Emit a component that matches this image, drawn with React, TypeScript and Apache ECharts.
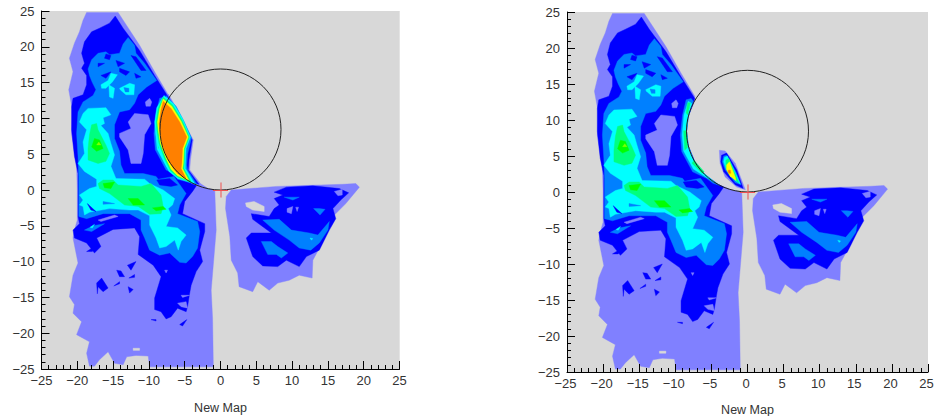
import React, { useEffect, useRef } from "react";
import * as echarts from "echarts";

type P = number[][];
const tickLabels = [-25, -20, -15, -10, -5, 0, 5, 10, 15, 20, 25];
const axisTitle = "New Map";
const circleCentre = [0, 8.45];
const circleRadius = 8.45;
const crossArm = 1.05;

const plotArea: P = [[-25,-25],[25,-25],[25,25],[-25,25]];
const wingLeft1: P = [[-18.7,24.8],[-14.3,24.8],[-11.3,20.2],[-9.2,16.5],[-7.3,13.3],[-7.3,12.7],[-8.2,10.5],[-8.45,8.45],[-8.2,6.4],[-7.3,4.2],[-6,2.5],[-4.2,1.1],[-2.2,0.3],[-0.8,0],[-0.6,-5.6],[-1.3,-14],[-1.1,-18],[-1,-24.7],[-9.9,-24.7],[-10.1,-23.2],[-11.8,-23.1],[-13.1,-23.3],[-13.6,-24.4],[-14.8,-24.2],[-15.7,-22.6],[-16.9,-23.7],[-17.6,-24.6],[-18.3,-24.6],[-18.7,-22.8],[-18.3,-21.2],[-20.1,-20.2],[-19.4,-18.4],[-20.6,-17.2],[-20.4,-16],[-21.1,-14.9],[-20.6,-11.9],[-19.9,-10.2],[-20.6,-6.7],[-20.4,-5.6],[-20,-4.2],[-20,0],[-20.1,3.3],[-20.8,7.9],[-20.6,10.7],[-21.2,14],[-20.6,16.5],[-21.1,18.4],[-20.4,20.5],[-19.7,22.1],[-19.2,23.7]];
const wingLeft2: P = [[-14.7,24.3],[-13.6,22.6],[-11.3,19.5],[-9.2,16],[-7.3,13],[-7.6,12.1],[-8.2,10.5],[-8.45,8.45],[-8.2,6.4],[-7.3,4.2],[-6,2.5],[-4.2,1.1],[-3.3,0.7],[-3.9,-0.2],[-5,-1.6],[-5.3,-3.3],[-2.2,-4.7],[-2.2,-5.8],[-2.9,-8.4],[-2.5,-10],[-3.4,-11.4],[-4.1,-13.3],[-4.3,-14.4],[-4.6,-16.3],[-4.8,-17],[-6,-16.5],[-6.9,-17.7],[-7.6,-18],[-8.3,-17],[-9.2,-16.7],[-9.2,-15.1],[-8.3,-12.1],[-9.4,-10.5],[-11.5,-9],[-11.3,-6.5],[-12,-5.3],[-15,-5.5],[-17.3,-6.7],[-16.7,-7.9],[-17.6,-8.8],[-18.7,-7.4],[-20.4,-6.7],[-20.6,-5.6],[-19.7,-4.7],[-19.9,-3.7],[-19.9,0],[-19.9,2.3],[-20.4,4.7],[-20.8,8.4],[-20.8,11.6],[-20.6,12.8],[-19.2,13.3],[-18.7,14.7],[-18.7,16],[-19.4,17],[-19,17.7],[-19.4,19.1],[-19,20.7],[-18,22.1],[-16.9,22.6],[-15.5,23.3]];
const specks2: P[] = [
  [[-17.3,-13],[-16.6,-12.3],[-15.7,-13.7],[-16.4,-14.2],[-17.1,-13.5],[-17.2,-14.5]],
  [[-14.5,-11.2],[-13.9,-11.3],[-13.4,-12.1],[-14.1,-12.1]],
  [[-14.9,-13.4],[-14.1,-12.8],[-14.1,-13.1]],
  [[-12.9,-13.5],[-12.2,-13.9],[-12.7,-14.4]],
  [[-13,-10.5],[-11.8,-10],[-12.5,-11.2]],
  [[-5.7,-18.8],[-4.7,-18.1],[-5.3,-19]],
  [[-9.7,-18.1],[-9,-18.1],[-9,-18.3]],
  [[-12.8,-12.3],[-12,-11.8],[-12,-12.2]],
  [[-18.7,-8.6],[-17.6,-7.9],[-17.9,-8.6]],
];
const holesLeft1: P[] = [
  [[-12.9,9.5],[-12,10.7],[-10.1,10.5],[-9.7,9.3],[-10.6,7.7],[-10.8,5.1],[-11.1,3.7],[-12.5,3.7],[-12.9,5.6],[-14.1,7.4],[-14.1,7.9],[-12.5,8.6]],
  [[-10.5,12.3],[-9.9,12.8],[-9.6,12.3],[-9.8,11.7],[-10.4,11.7]],
  [[-17.1,-4.2],[-14.8,-3.5],[-14.3,-3.7],[-16.7,-4.4]],
  [[-5.5,-14.7],[-4.3,-14.7],[-5.3,-15]],
  [[-6,-15.8],[-4.8,-15.6],[-4.6,-16.5],[-5.5,-16.3]],
  [[-7.8,-11.2],[-7.4,-11.2],[-7.6,-11.6]],
];
const wingLeft3: P = [[-12.9,21.3],[-12,20.2],[-11.8,19.1],[-10.6,17.7],[-8.9,15.3],[-10.3,14.4],[-11.5,13.3],[-12,12.1],[-12.7,11.2],[-14.1,10.9],[-14.8,9.1],[-14.8,7.2],[-14.1,5.4],[-13.9,3.5],[-13.4,2.3],[-10.8,2.3],[-9,1.9],[-8.7,1.5],[-6.5,1.9],[-4.8,-0.5],[-5.7,-2.1],[-6,-3.3],[-3.2,-4.4],[-2.9,-5.8],[-3.2,-8.1],[-3.9,-9.3],[-4.8,-10.2],[-5.7,-10.1],[-7.1,-8.8],[-8.5,-9.1],[-9.9,-8.4],[-10.6,-6.7],[-11.1,-5.6],[-11.1,-4.2],[-12.7,-3.3],[-16.4,-3.3],[-18.7,-4],[-19.8,-3.7],[-19.8,0],[-19.8,1.9],[-19.9,4.7],[-20.1,7.9],[-19.9,10.9],[-19.2,12.3],[-17.8,13.2],[-17.4,14],[-17.9,15],[-18.3,16],[-18.5,16.9],[-18,18.2],[-17.1,19.1],[-16,19.3],[-15.5,18.9],[-14.1,19.1],[-13.6,20.4]];
const strip3: P = [[-19,-5.6],[-17.8,-5],[-16.2,-4.7],[-18,-5.8]];
const wingLeft4: P = [[-18.5,11.4],[-16,11.5],[-15.3,10.5],[-16.4,10.1],[-16.2,9.3],[-16.7,9],[-15.7,7.9],[-15.3,6.5],[-14.8,4.9],[-15.3,3.3],[-14.6,1.6],[-10.6,1.5],[-9.9,0.9],[-8,0],[-6.4,-1.2],[-6.7,-2.1],[-7.3,-2.6],[-6.9,-3.5],[-7.6,-5.1],[-6,-5.3],[-4.8,-6.3],[-5.5,-7.2],[-5.9,-8.4],[-6.4,-7],[-7.6,-7.9],[-8.5,-8.1],[-9,-6.7],[-9.9,-4.9],[-9.9,-3.6],[-11.5,-2.8],[-12.7,-2.8],[-15.5,-2.6],[-18.3,-3.1],[-19,-3.5],[-19.2,-2.3],[-19.7,-2.1],[-19.2,-1.4],[-19.7,-0.7],[-18.3,0.2],[-17.3,0.5],[-17.3,1.5],[-19,2.6],[-19.9,3.7],[-19,5.1],[-19.2,6.7],[-18.7,8.4],[-19.7,9.5],[-19.2,10.7]];
const patches4: P[] = [
  [[-16.7,14.7],[-15.7,15.3],[-15.3,16.3],[-14.4,16.1],[-15.1,15.1],[-16,14.2],[-16.6,14.2]],
  [[-15.6,14.7],[-14.8,14.2],[-15,12.8],[-15.5,13]],
  [[-14.1,14.2],[-12.7,14.9],[-12,14.7],[-12.1,13.3],[-13.2,13.3],[-14,14]],
  [[-18.2,-5.2],[-17.6,-4.8],[-17.9,-5.3]],
];
const patches2: P[] = [
  [[-8.9,1.4],[-7.1,1.6],[-6,0.7],[-6.9,0.5],[-8.5,0.7]],
  [[-16,19],[-15.3,18.8],[-15.5,18.2],[-16.2,18.4]],
  [[-17.1,17.7],[-16.2,17.7],[-17.1,17.2]],
  [[-14.6,18.1],[-13.4,17.7],[-14.3,17.2]],
  [[-12.5,18.8],[-11.8,18.6],[-10.4,16.7],[-11.1,16.7]],
  [[-16.7,16],[-15.3,16.5],[-16,15.6]],
  [[-14.1,17],[-12.7,16.5],[-13.2,16],[-14.1,16.5]],
  [[-12,16.3],[-11.1,15.8],[-11.8,15.6]],
  [[-18.6,-1.9],[-18.1,-2.8],[-17.4,-3]],
];
const slits3: P[] = [
  [[-13.5,14.3],[-12.8,14.2],[-12.8,13.7],[-13.3,13.7]],
  [[-16.4,-1.6],[-14.8,-1.9],[-16.4,-2]],
];
const wingLeft5: P[] = [
  [[-18,9.1],[-17.3,9.3],[-17.1,8.4],[-16,6.3],[-15.5,5.1],[-16,4],[-17.1,3.7],[-18.5,4.2],[-18.5,5.8],[-18.3,7.7]],
  [[-17.1,0.9],[-16.4,1.4],[-15,1.4],[-14.3,0.7],[-11.1,0.5],[-9.7,0.9],[-8.3,-0.7],[-8,-2.3],[-8.3,-3.3],[-9.9,-3.4],[-11.5,-2.3],[-13.4,-2.1],[-15.5,-0.5],[-16.9,0.2]],
];
const wingLeft6: P[] = [
  [[-17.6,7.2],[-16.9,7],[-16.4,5.8],[-17.3,5.4],[-18,6]],
  [[-16.4,0.9],[-14.8,1.1],[-15.3,0.2],[-16.2,0.3]],
  [[-12.9,-1.2],[-11.5,-1.2],[-10.6,-2.1],[-12.2,-2.1]],
  [[-9.5,-2.5],[-8,-2.3],[-7.6,-2.7],[-9,-2.9]],
];
const peak7: P = [[-17.3,6.3],[-16.7,6.3],[-17,6.7]];
const ridgeAzure: P = [[-7.8,13],[-8.5,12.8],[-9,10.7],[-9.3,7.9],[-9.1,5.6],[-7.6,2.8],[-5.7,1.9],[-4.8,1.2],[-3.8,0.9],[-6,2.5],[-7.3,4.2],[-8.2,6.4],[-8.45,8.45],[-8.2,10.5],[-7.5,12.6]];
const ridgeCyan: P = [[-8.2,12.6],[-8.8,10.7],[-9.05,7.9],[-8.85,5.7],[-7.5,3.2],[-5.8,2.1],[-4.6,1.4],[-5.3,2],[-6.5,3],[-7.5,4.4],[-8.2,6.4],[-8.45,8.45],[-8.2,10.5],[-7.7,12.3]];
const ridgeGreen: P[] = [
  [[-8.3,12.4],[-8.5,11],[-8.3,10.7],[-7.9,12.4]],
  [[-8.85,8.5],[-8.7,5.8],[-8.3,6.2],[-8.45,8.5]],
  [[-7.7,4],[-6.3,2.6],[-6,2.8],[-7.4,4.4]],
];
const wingRight1: P = [[1.5,0],[7.8,0.5],[17.1,0.8],[18.9,0.9],[19.4,0.4],[17.5,-1.9],[15.9,-3.5],[14.3,-7.2],[12.9,-9.8],[12.8,-12.3],[11,-11.9],[9.6,-12.6],[8,-13],[6.8,-14],[5.2,-12.8],[4.5,-14.2],[2.6,-13.5],[2.4,-11.6],[1.5,-9.8],[1.3,-6.5],[0.7,-2.6],[0.8,-0.9]];
const gapRight: P = [[3.5,-1.8],[4.7,-1.6],[6.1,-2.3],[6.1,-3],[4.5,-2.8],[3.6,-2.3]];
const gapLeft: P = [[-12.2,-22.1],[-11.3,-22.1],[-11.3,-22.4],[-12.2,-22.4]];
const wingRight2: P = [[7.5,-0.3],[9.2,0.4],[12.9,0.6],[16.6,0.2],[17.9,-0.4],[16.8,-1.4],[15.7,-2.6],[16.1,-4],[15.2,-5.6],[13.8,-8.4],[12,-9.3],[11,-10.7],[9.2,-9.8],[8,-10.7],[5.9,-10.6],[4.5,-9.3],[3.6,-6.7],[4.3,-6],[6.6,-6],[7.1,-6],[4.5,-4.1],[4.3,-3.3],[6.8,-3.7],[7.5,-2.6],[8.2,-2.1],[7.5,-1.2],[8.7,-0.7]];
const holesRight1: P[] = [
  [[9.3,-2.6],[10.1,-2.3],[9.9,-3.3],[9.3,-3.1]],
  [[10.5,-2.4],[10.9,-2.4],[10.7,-3]],
  [[15.9,-0.2],[17,0.1],[17,-0.7],[16.4,-0.8]],
];
const wingRight3: P[] = [
  [[5.9,-4.2],[8.2,-4.1],[9.9,-5.6],[12.4,-6],[13.6,-6.3],[15.2,-4.4],[15,-5.6],[13.8,-7.4],[12.6,-8.4],[11,-8.1],[9.6,-7],[7.5,-5.6]],
  [[5.7,-7.2],[7.1,-7.2],[8,-7.9],[9.4,-8.8],[8.5,-9.5],[7.8,-9],[6.6,-9]],
  [[13.8,-2.6],[14.6,-2.7],[13.9,-3.5],[13,-2.6]],
  [[8.9,-1],[11,-1],[10.1,-1.4]],
];
const dotRight4: P = [[12.5,-6.7],[12.9,-6.8],[12.7,-7]];

const lensPeri: P = [[-7.3,13.4],[-5.9,11],[-4.7,8.6],[-3.8,7],[-4.2,4.2],[-4.3,2.8],[-2.8,0.9],[-1.5,0.05],[-4,0.9],[-6.6,3],[-8.45,8],[-7.8,12]];
const lensBlue: P = [[-7.4,13.2],[-6,10.8],[-4.85,8.6],[-3.95,7],[-4.4,4.2],[-4.5,2.8],[-3,0.8],[-6,1.5],[-8.45,8],[-8,11]];
const lensAzure: P = [[-7.6,13.2],[-6.2,11.7],[-5.1,9.6],[-4.05,7.3],[-4.6,5],[-4.7,3.5],[-4.6,2.8],[-3.3,0.8],[-6,1.5],[-8.45,8],[-8,11]];
const lensCyan: P = [[-7.9,13.2],[-6.5,12],[-5.3,10],[-4.2,7.4],[-4.8,5.8],[-4.9,3.7],[-4.9,3],[-3.6,0.9],[-6,1.6],[-7.2,2.6],[-8,4.2],[-8.8,6.5],[-9.1,8.4],[-9.2,9.5],[-8.9,11.5]];
const lensGreen: P = [[-8,13],[-6.7,11.9],[-5.4,9.8],[-4.35,7.4],[-4.95,5.8],[-5.05,3.7],[-5.1,3],[-4,1],[-6,1.8],[-7,2.7],[-7.8,4.3],[-8.6,6.5],[-8.9,8.4],[-9,9.5],[-8.7,11.4]];
const lensYellow: P = [[-8,12.7],[-6.8,11.7],[-5.5,9.6],[-4.5,7.4],[-5.1,5.8],[-5.2,3.7],[-5.3,3],[-4.4,1.3],[-6,2],[-6.9,2.9],[-7.6,4.4],[-8.4,6.5],[-8.7,8.4],[-8.8,9.5],[-8.5,11.3]];
const lensOrange: P = [[-8,12.4],[-6.9,11.4],[-5.7,9.5],[-4.7,7.4],[-5.3,5.8],[-5.4,3.7],[-5.5,3],[-4.8,1.6],[-6,2.3],[-6.6,3],[-7.4,4.4],[-8.2,6.5],[-8.5,8.4],[-8.6,9.3],[-8.3,11.2]];

const blobPeri: P = [[-3.9,5.8],[-3.1,5.7],[-1.7,4],[-0.3,0.3],[-1.5,0.7],[-3.1,2.1],[-3.8,4]];
const blobBlue: P = [[-3.6,5.1],[-2.9,5.4],[-1.5,3.1],[-0.6,0.5],[-1.7,1],[-3.3,2.8],[-3.7,4.2]];
const blobAzure: P = [[-3.3,5],[-2.9,5.1],[-1.6,2.8],[-0.9,1],[-1.7,1.3],[-3.1,3.1],[-3.5,4.2]];
const blobCyan: P = [[-3.2,4.8],[-2.8,5],[-1.7,2.7],[-1,1.1],[-1.7,1.6],[-3,3.3],[-3.3,4.2]];
const blobGreen: P = [[-3,4.4],[-2.6,4.7],[-1.7,2.5],[-1.2,1.3],[-1.9,1.8],[-3,3.4]];
const blobYellow: P = [[-2.9,3.75],[-2.5,4.2],[-1.7,2.1],[-1.6,1.6],[-2.4,2.2],[-2.9,3.1]];
const blobOrange: P = [[-2.7,3],[-2.4,3.05],[-2.3,2.6],[-2.6,2.6]];

const palette: Record<string, string> = {
  peri: "#8080ff", blue: "#0000ff", azure: "#0080ff", cyan: "#00ffff",
  spring: "#00ff80", green: "#00ff00", lime: "#80ff00", yellow: "#ffff00", orange: "#ff8000", bg: "#d8d8d8",
};
type Layer = [string, P];
const many = (c: string, list: P[]): Layer[] => list.map((p) => [c, p] as Layer);
const sharedLayers: Layer[] = [
  ["bg", plotArea],
  ["peri", wingLeft1], ["peri", wingRight1], ["bg", gapRight], ["bg", gapLeft],
  ["blue", wingLeft2], ...many("blue", specks2),
  ["blue", wingRight2], ...many("peri", holesRight1),
  ...many("peri", holesLeft1),
  ["azure", wingLeft3], ["azure", strip3], ...many("azure", wingRight3),
  ["cyan", dotRight4],
  ["azure", ridgeAzure],
  ...many("blue", patches2),
  ["cyan", wingLeft4], ...many("cyan", patches4), ...many("azure", slits3), ["blue", patches2[8]],
  ["cyan", ridgeCyan],
  ...many("spring", wingLeft5), ...many("green", wingLeft6), ["lime", peak7],
  ...many("spring", ridgeGreen),
];
const leftLayers: Layer[] = [...sharedLayers,
  ["peri", lensPeri], ["blue", lensBlue], ["azure", lensAzure], ["cyan", lensCyan],
  ["spring", lensGreen], ["yellow", lensYellow], ["orange", lensOrange],
];
const rightLayers: Layer[] = [...sharedLayers,
  ["peri", blobPeri], ["blue", blobBlue], ["azure", blobAzure], ["cyan", blobCyan],
  ["spring", blobGreen], ["yellow", blobYellow], ["orange", blobOrange],
];

const contourSeries = (i: number, layers: Layer[]) => ({
  type: "custom", xAxisIndex: i, yAxisIndex: i, silent: true, clip: true, z: 1,
  data: layers.map((_, k) => [k, 0]),
  renderItem: (params: any, api: any) => {
    const [c, pts] = layers[params.dataIndex];
    return { type: "polygon", shape: { points: pts.map((p) => api.coord(p)) }, style: { fill: palette[c], stroke: palette[c], lineWidth: 0.4 } };
  },
});
const overlaySeries = (i: number) => ({
  type: "custom", xAxisIndex: i, yAxisIndex: i, silent: true, clip: true, z: 2,
  data: [[0, 0]],
  renderItem: (_: any, api: any) => {
    const c = api.coord(circleCentre);
    const s = api.size([circleRadius, circleRadius]);
    const a = api.coord([-crossArm, 0]), b = api.coord([crossArm, 0]);
    const u = api.coord([0, crossArm]), d = api.coord([0, -crossArm]);
    return { type: "group", children: [
      { type: "ellipse", shape: { cx: c[0], cy: c[1], rx: s[0], ry: s[1] }, style: { fill: "none", stroke: "#222", lineWidth: 1 } },
      { type: "line", shape: { x1: a[0], y1: a[1] + 0.5, x2: b[0], y2: b[1] + 0.5 }, style: { stroke: "#f05050", lineWidth: 1 } },
      { type: "line", shape: { x1: u[0] + 0.5, y1: u[1], x2: d[0] + 0.5, y2: d[1] }, style: { stroke: "#f05050", lineWidth: 1 } },
    ] };
  },
});
const axisBase = {
  z: 10,
  min: tickLabels[0], max: tickLabels[tickLabels.length - 1], interval: 5,
  splitLine: { show: false }, minorSplitLine: { show: false },
  axisLine: { show: true, onZero: false, lineStyle: { color: "#000", width: 1 } },
  axisTick: { show: true, inside: true, length: 8, lineStyle: { color: "#000", width: 1 } },
  minorTick: { show: true, splitNumber: 5, length: 4, lineStyle: { color: "#000", width: 1 } },
};
const lab = { fontFamily: "Liberation Sans", fontSize: 13, color: "#333", formatter: (v: number) => String(v).replace("-", "\u2212") };

export default function App() {
  const ref = useRef<HTMLDivElement>(null);
  useEffect(() => {
    const chart = echarts.init(ref.current!, null, { renderer: "svg" });
    chart.setOption({
      animation: false,
      backgroundColor: "#ffffff",
      grid: [
        { left: 41.5, top: 11, width: 358, height: 358, show: false, outerBoundsMode: "none" },
        { left: 567, top: 12, width: 361, height: 360, show: false, outerBoundsMode: "none" },
      ],
      xAxis: [0, 1].map((i) => ({ ...axisBase, type: "value", gridIndex: i, position: "bottom", name: axisTitle, nameLocation: "middle", nameGap: i ? 31 : 32, nameTextStyle: { fontFamily: "Liberation Sans", fontSize: 12.5, color: "#333" }, axisLabel: { ...lab, margin: 5, showMinLabel: true, showMaxLabel: true, padding: i ? [0, 3, 0, 0] : 0 } })),
      yAxis: [0, 1].map((i) => ({ ...axisBase, type: "value", gridIndex: i, position: "left", axisLabel: { ...lab, margin: 7, showMinLabel: true, showMaxLabel: true } })),
      series: [contourSeries(0, leftLayers), overlaySeries(0), contourSeries(1, rightLayers), overlaySeries(1)],
    });
    return () => chart.dispose();
  }, []);
  return <div ref={ref} style={{ position: "absolute", left: 0, top: 0, width: 934, height: 416 }} />;
}
